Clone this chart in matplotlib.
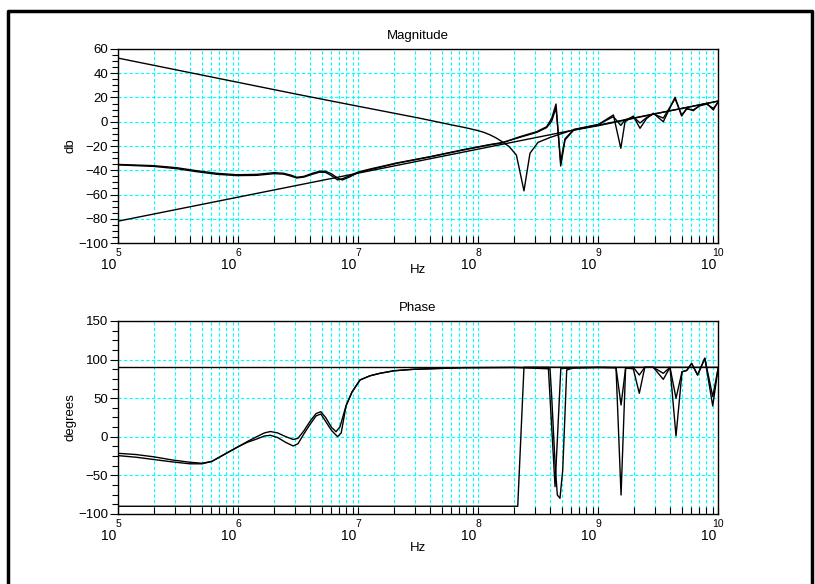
import matplotlib
matplotlib.use('Agg')
import matplotlib.pyplot as plt
from matplotlib.lines import Line2D
from matplotlib.ticker import FixedLocator, MultipleLocator, NullFormatter
import numpy as np

plt.rcParams['font.family'] = ['Liberation Sans', 'DejaVu Sans']

# ---- magnitude (x values are log10 of Hz) ----
lc_exp = [5.0, 5.5, 6.0, 6.5, 7.0, 7.5, 7.8, 7.9, 8.0, 8.05, 8.1, 8.15, 8.2, 8.26,
          8.32, 8.383, 8.433, 8.5, 8.6, 8.767, 9.0, 9.5, 10.0]
lc_db = [52.5, 42.5, 32.5, 22.5, 12.8, 3.2, -3.0, -5.0, -7.3, -8.8, -10.8, -13.3,
         -16.4, -20.5, -27.5, -57.0, -26.0, -17.0, -13.0, -7.5, -3.3, 7.0, 17.0]

ind_exp = [5.0, 10.0]
ind_db = [-82.0, 17.0]

meas_exp = [5.0, 5.294, 5.489, 5.656, 5.822, 5.989, 6.156, 6.3, 6.38, 6.44, 6.49,
            6.55, 6.62, 6.68, 6.73, 6.78, 6.83, 6.87, 6.93, 7.0, 7.1, 7.322, 7.6,
            7.878, 8.1, 8.2, 8.35, 8.489, 8.572, 8.614, 8.65, 8.689, 8.725, 8.8,
            8.9, 9.0, 9.128, 9.19, 9.225, 9.294, 9.35, 9.406, 9.461, 9.544, 9.642,
            9.697, 9.739, 9.794, 9.85, 9.906, 9.961, 10.0]
meas_a_db = [-35.2, -36.2, -37.9, -40.4, -42.5, -43.7, -43.4, -42.0, -42.5, -44.0,
             -45.8, -45.0, -42.5, -40.8, -40.9, -43.0, -46.5, -48.0, -45.5, -42.0,
             -39.5, -34.3, -29.0, -23.3, -19.0, -17.5, -12.3, -8.2, -4.1, 2.8, 14.6,
             -36.5, -15.0, -6.5, -4.5, -2.5, 5.6, -21.9, 0.0, 4.7, -5.4, 2.8, 7.0,
             0.0, 20.2, 4.7, 11.1, 9.1, 13.8, 15.2, 9.7, 16.5]
meas_b_db = [-35.6, -36.8, -38.7, -41.2, -43.3, -44.4, -44.2, -42.8, -43.2, -44.8,
             -46.4, -45.6, -43.3, -41.6, -41.8, -44.5, -48.0, -47.0, -44.5, -41.5,
             -39.0, -34.0, -28.8, -23.0, -18.8, -17.2, -12.8, -8.8, -4.8, 0.5, 11.5,
             -33.0, -14.0, -6.3, -4.3, -2.3, 4.2, -3.0, 1.5, 4.0, -1.0, 3.5, 6.5,
             3.0, 19.0, 5.5, 10.5, 9.8, 13.2, 14.5, 11.0, 16.0]

# ---- phase ----
lc_ph_exp = [5.0, 8.331, 8.383, 10.0]
lc_ph = [-90.0, -90.0, 90.0, 90.0]

ind_ph_exp = [5.0, 10.0]
ind_ph = [90.0, 90.0]

ph_a_exp = [5.0, 5.15, 5.3, 5.45, 5.6, 5.7, 5.78, 5.85, 5.93, 6.0, 6.08, 6.156,
            6.22, 6.27, 6.33, 6.4, 6.46, 6.5, 6.55, 6.6, 6.65, 6.69, 6.73, 6.78,
            6.817, 6.85, 6.9, 6.95, 7.017, 7.1, 7.183, 7.3, 7.461, 7.878, 8.3,
            8.586, 8.642, 8.69, 9.0, 9.15, 9.192, 9.23, 9.294, 9.344, 9.39, 9.46,
            9.544, 9.6, 9.65, 9.7, 9.74, 9.78, 9.83, 9.89, 9.956, 10.0]
ph_a = [-21.4, -23.0, -26.0, -30.0, -33.0, -34.3, -32.0, -26.0, -19.0, -13.0,
        -6.0, 0.1, 5.0, 6.8, 5.0, 0.0, -3.5, -2.0, 8.0, 20.0, 30.0, 32.5, 25.0,
        12.0, 6.6, 13.0, 40.0, 58.0, 73.6, 79.0, 82.2, 85.5, 87.4, 89.5, 89.8,
        89.8, -64.6, 88.5, 89.8, 89.5, -75.4, 89.0, 88.0, 56.3, 90.0, 90.0,
        74.4, 90.0, 1.0, 84.0, 86.0, 95.0, 80.0, 101.7, 40.0, 88.0]

ph_b_exp = [5.0, 5.15, 5.3, 5.45, 5.6, 5.7, 5.78, 5.85, 5.93, 6.0, 6.08, 6.156,
            6.22, 6.27, 6.33, 6.4, 6.46, 6.5, 6.55, 6.6, 6.65, 6.69, 6.73, 6.78,
            6.83, 6.86, 6.9, 6.95, 7.017, 7.1, 7.183, 7.3, 7.461, 7.878, 8.3,
            8.6, 8.614, 8.642, 8.661, 8.683, 8.706, 8.725, 8.739, 8.8, 9.0, 9.15,
            9.192, 9.23, 9.294, 9.344, 9.39, 9.46, 9.544, 9.6, 9.65, 9.7, 9.74,
            9.78, 9.83, 9.89, 9.956, 10.0]
ph_b = [-24.4, -26.5, -29.5, -32.5, -35.0, -35.0, -32.0, -26.0, -19.0, -13.0,
        -7.0, -2.9, 1.0, 1.9, -1.0, -7.5, -11.9, -9.0, 4.0, 16.0, 27.0, 29.5,
        20.0, 8.0, 0.1, 5.0, 40.0, 58.0, 73.6, 79.0, 82.2, 85.5, 87.4, 89.5,
        89.8, 88.0, 52.0, -34.4, -75.4, -79.7, -43.0, 30.4, 86.5, 89.5, 89.8,
        89.5, 41.2, 89.0, 90.0, 80.0, 90.0, 90.0, 82.2, 90.0, 49.9, 84.3, 86.0,
        95.0, 80.0, 101.7, 52.0, 88.0]

decades = [5, 6, 7, 8, 9, 10]

fig = plt.figure(figsize=(8.15, 5.84), dpi=100)
ax1 = fig.add_axes([0.1448, 0.5839, 0.7362, 0.3322])
ax2 = fig.add_axes([0.1448, 0.1199, 0.7362, 0.3305])

minor_x = [m * 10.0 ** d for d in decades[:-1] for m in range(2, 10)]
major_x = [10.0 ** d for d in decades]


def style(ax, ylo, yhi, ymaj, title, ylab):
    ax.set_xscale('log')
    ax.set_xlim(1e5, 1e10)
    ax.set_ylim(ylo, yhi)
    ax.xaxis.set_major_locator(FixedLocator(major_x))
    ax.xaxis.set_minor_locator(FixedLocator(minor_x))
    ax.xaxis.set_major_formatter(NullFormatter())
    ax.xaxis.set_minor_formatter(NullFormatter())
    ax.yaxis.set_major_locator(MultipleLocator(ymaj))
    ax.yaxis.set_minor_locator(MultipleLocator(ymaj / 4))
    ax.tick_params(axis='x', which='both', direction='in', length=5, width=0.8,
                   top=False, bottom=True)
    ax.tick_params(axis='y', which='major', direction='out', length=6, width=0.8,
                   labelsize=9.5, pad=1, right=False)
    ax.tick_params(axis='y', which='minor', direction='out', length=4, width=0.8,
                   right=False)
    ax.grid(True, which='major', axis='y', color='cyan', ls=(0, (3, 2)), lw=0.8)
    ax.grid(True, which='both', axis='x', color='cyan', ls=(0, (3, 2)), lw=0.8)
    ax.set_axisbelow(True)
    for s in ax.spines.values():
        s.set_linewidth(1.0)
    ax.set_title(title, fontsize=9.5, pad=7)
    ax.set_ylabel(ylab, fontsize=9.5)
    ax.yaxis.set_label_coords(-0.07, 0.5)
    for d in decades:
        ax.annotate(str(d), xy=(10.0 ** d, 0), xycoords=('data', 'axes fraction'),
                    xytext=(0, -10), textcoords='offset pixels', ha='center',
                    va='center', fontsize=7.5)
        ax.annotate('10', xy=(10.0 ** d, 0), xycoords=('data', 'axes fraction'),
                    xytext=(-9, -22), textcoords='offset pixels', ha='center',
                    va='center', fontsize=10)


style(ax1, -100, 60, 20, 'Magnitude', 'db')
style(ax2, -100, 150, 50, 'Phase', 'degrees')
ax1.text(0.5, -0.137, 'Hz', transform=ax1.transAxes, ha='center', va='center', fontsize=9.5)
ax2.text(0.5, -0.174, 'Hz', transform=ax2.transAxes, ha='center', va='center', fontsize=9.5)

kw = dict(color='black', lw=1.0)
ax1.plot(np.power(10.0, lc_exp), lc_db, **kw)
ax1.plot(np.power(10.0, ind_exp), ind_db, **kw)
ax1.plot(np.power(10.0, meas_exp), meas_a_db, **kw)
ax1.plot(np.power(10.0, meas_exp), meas_b_db, **kw)

ax2.plot(np.power(10.0, lc_ph_exp), lc_ph, **kw)
ax2.plot(np.power(10.0, ind_ph_exp), ind_ph, **kw)
ax2.plot(np.power(10.0, ph_a_exp), ph_a, **kw)
ax2.plot(np.power(10.0, ph_b_exp), ph_b, **kw)

# window frame
fx0, fx1, fy1 = 8 / 815, 812 / 815, 1 - 11 / 584
fig.add_artist(Line2D([fx0, fx0, fx1, fx1], [0, fy1, fy1, 0], color='black', lw=2.5))

fig.savefig('out.png', dpi=100)
